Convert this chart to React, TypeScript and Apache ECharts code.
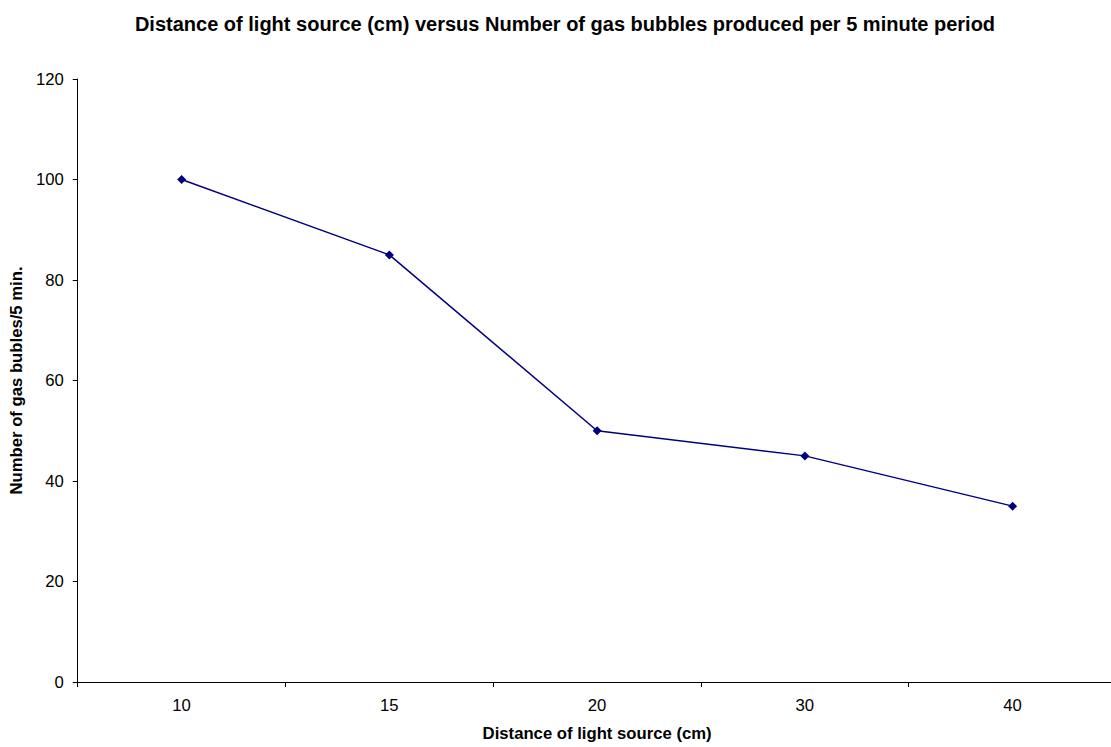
import React, { useEffect, useRef } from "react";
import * as echarts from "echarts";

const distances = ["10", "15", "20", "30", "40"];
const bubbles = [100, 85, 50, 45, 35];

const titleText =
  "Distance of light source (cm) versus Number of gas bubbles produced per 5 minute period";
const xName = "Distance of light source (cm)";
const yName = "Number of gas bubles/5 min.";

const font = "'Liberation Sans', Arial, sans-serif";

export default function App() {
  const ref = useRef<HTMLDivElement>(null);

  useEffect(() => {
    if (!ref.current) return;
    const chart = echarts.init(ref.current, null, { renderer: "svg" });
    chart.setOption({
      animation: false,
      backgroundColor: "#ffffff",
      title: {
        text: titleText,
        left: 560,
        textAlign: "center",
        top: 9,
        textStyle: { fontFamily: font, fontSize: 20, fontWeight: "bold", color: "#000" },
      },
      grid: { left: 77.5, right: 3.5, top: 79, bottom: 63.5, containLabel: false },
      xAxis: {
        type: "category",
        data: distances,
        boundaryGap: true,
        name: xName,
        nameLocation: "middle",
        nameGap: 43,
        nameTextStyle: { fontFamily: font, fontSize: 16.7, fontWeight: "bold", color: "#000" },
        axisLine: { lineStyle: { color: "#000", width: 1 } },
        axisTick: { show: true, length: 5, inside: false, lineStyle: { color: "#000" } },
        axisLabel: { fontFamily: font, fontSize: 16.7, color: "#000", margin: 15 },
        splitLine: { show: false },
      },
      yAxis: {
        type: "value",
        min: 0,
        max: 120,
        interval: 20,
        name: yName,
        nameLocation: "middle",
        nameGap: 47,
        nameRotate: 90,
        nameTextStyle: { fontFamily: font, fontSize: 16.7, fontWeight: "bold", color: "#000" },
        axisLine: { show: true, lineStyle: { color: "#000", width: 1 } },
        axisTick: { show: true, length: 5, inside: false, lineStyle: { color: "#000" } },
        axisLabel: { fontFamily: font, fontSize: 16.7, color: "#000", margin: 14 },
        splitLine: { show: false },
      },
      series: [
        {
          type: "line",
          data: bubbles,
          symbol: "diamond",
          symbolSize: 9,
          showAllSymbol: true,
          lineStyle: { color: "#000080", width: 1.5 },
          itemStyle: { color: "#000080" },
        },
      ],
    });
    return () => chart.dispose();
  }, []);

  return (
    <div
      ref={ref}
      style={{ position: "fixed", left: 0, top: 0, width: 1120, height: 747, background: "#fff" }}
    />
  );
}
